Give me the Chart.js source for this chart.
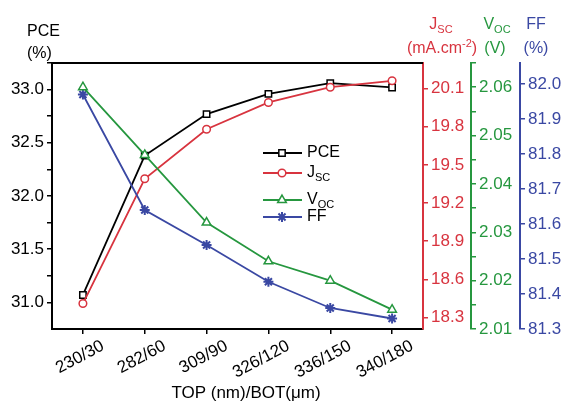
<!DOCTYPE html>
<html><head><meta charset="utf-8">
<script src="https://cdn.jsdelivr.net/npm/chart.js@4/dist/chart.umd.min.js"></script>
<style>html,body{margin:0;padding:0;background:#fff;}#wrap{width:563px;height:402px;}</style>
</head><body><div id="wrap"><canvas id="c" width="563" height="402"></canvas></div>
<script>
const categories = ['230/30','282/60','309/90','326/120','336/150','340/180'];
const pce = [31.07, 32.38, 32.77, 32.96, 33.06, 33.02];
const jsc = [18.41, 19.39, 19.78, 19.99, 20.11, 20.16];
const voc = [2.060, 2.046, 2.032, 2.024, 2.020, 2.014];
const ff  = [81.97, 81.64, 81.54, 81.435, 81.36, 81.33];
const pceTicks = [31.0, 31.5, 32.0, 32.5, 33.0];
const jscTicks = [18.3, 18.6, 18.9, 19.2, 19.5, 19.8, 20.1];
const vocTicks = [2.01, 2.02, 2.03, 2.04, 2.05, 2.06];
const ffTicks  = [81.3, 81.4, 81.5, 81.6, 81.7, 81.8, 81.9, 82.0];

const BLACK = '#000000', RED = '#d8343f', GREEN = '#26973f', BLUE = '#3a48a3';
const FONT = 'Liberation Sans, Arial, sans-serif';

function withMinor(major){
  const out = [];
  const step = major[1]-major[0];
  for (let i=0;i<major.length;i++){
    out.push({value: major[i], major:true});
    out.push({value: +(major[i]+step/2).toFixed(4), major:false});
  }
  return out;
}
function yScale(pos, color, min, max, major, dec, width, weight){
  return {
    type:'linear', position:pos, min:min, max:max, weight:weight,
    border:{display:true, color:color, width:2},
    grid:{display:true, drawOnChartArea:false, drawTicks:true, tickLength:5, color:color, lineWidth:1.5},
    ticks:{color:color, font:{family:FONT, size:17}, padding:3,
      callback:function(v){ return major.some(m=>Math.abs(m-v)<1e-6) ? v.toFixed(dec) : ''; }},
    afterBuildTicks:function(s){ s.ticks = withMinor(major).filter(t=>t.value<=max+1e-9 && t.value>=min-1e-9); },
    afterFit:function(s){ s.width = width; }
  };
}

const titlePlugin = {
  id:'titles',
  afterDraw(chart){
    const ctx = chart.ctx;
    const ca = chart.chartArea;
    ctx.save();
    ctx.strokeStyle = BLACK; ctx.lineWidth = 2;
    ctx.beginPath(); ctx.moveTo(ca.left-1, ca.top); ctx.lineTo(ca.right, ca.top); ctx.stroke();
    ctx.textBaseline = 'middle';
    function runs(parts, x, y, align, color){
      let w = 0;
      parts.forEach(p=>{ ctx.font = (p.size||16)+'px '+FONT; p.w = ctx.measureText(p.t).width; w += p.w; });
      let cx = align==='center' ? x - w/2 : x;
      ctx.fillStyle = color; ctx.textAlign = 'left';
      parts.forEach(p=>{ ctx.font = (p.size||16)+'px '+FONT; ctx.fillText(p.t, cx, y + (p.dy||0)); cx += p.w; });
    }
    runs([{t:'PCE'}], 27, 32, 'left', BLACK);
    runs([{t:'(%)'}], 27, 54, 'left', BLACK);
    runs([{t:'J'},{t:'SC', size:11, dy:5}], 441, 25, 'center', RED);
    runs([{t:'(mA.cm'},{t:'-2', size:11, dy:-5},{t:')'}], 442, 49, 'center', RED);
    runs([{t:'V'},{t:'OC', size:11, dy:5}], 497, 25, 'center', GREEN);
    runs([{t:'(V)'}], 495, 49, 'center', GREEN);
    runs([{t:'FF'}], 536, 25, 'center', BLUE);
    runs([{t:'(%)'}], 536, 49, 'center', BLUE);
    runs([{t:'TOP (nm)/BOT(μm)', size:17}], 246, 393, 'center', BLACK);
    const items = [
      {ds:0, y:153, parts:[{t:'PCE'}]},
      {ds:1, y:173, parts:[{t:'J'},{t:'SC', size:11, dy:5}]},
      {ds:2, y:200, parts:[{t:'V'},{t:'OC', size:11, dy:5}]},
      {ds:3, y:217, parts:[{t:'FF'}]}
    ];
    items.forEach(it=>{
      const d = chart.data.datasets[it.ds];
      ctx.strokeStyle = d.borderColor; ctx.lineWidth = d.borderWidth;
      ctx.beginPath(); ctx.moveTo(263, it.y); ctx.lineTo(302, it.y); ctx.stroke();
      ctx.fillStyle = d.pointBackgroundColor; ctx.strokeStyle = d.borderColor; ctx.lineWidth = d.pointBorderWidth;
      Chart.helpers.drawPoint(ctx, {pointStyle:d.pointStyle, radius:d.pointRadius, borderWidth:d.pointBorderWidth, rotation:0}, 282, it.y);
      runs(it.parts, 307, it.y, 'left', BLACK);
    });
    ctx.restore();
  }
};

function ds(label, data, color, axis, style, r, bw, order){
  return {label, data, yAxisID:axis, borderColor:color, backgroundColor:'#fff',
    pointBackgroundColor:'#fff', pointBorderColor:color, pointStyle:style, pointRadius:r,
    pointBorderWidth:bw, borderWidth:1.8, tension:0, order:order};
}

new Chart(document.getElementById('c'), {
  type:'line',
  data:{ labels:categories, datasets:[
    ds('PCE', pce, BLACK, 'y', 'rect', 4.5, 1.5, 3),
    ds('Jsc', jsc, RED, 'y1', 'circle', 3.8, 1.5, 2),
    ds('Voc', voc, GREEN, 'y2', 'triangle', 5, 1.5, 0),
    ds('FF', ff, BLUE, 'y3', 'star', 5, 2, 1)
  ]},
  options:{
    responsive:false, animation:false, devicePixelRatio:1,
    layout:{padding:{top:63, left:0, right:0, bottom:0}},
    plugins:{legend:{display:false}, tooltip:{enabled:false}},
    scales:{
      x:{type:'category', offset:true,
        border:{display:true, color:BLACK, width:2},
        grid:{display:true, drawOnChartArea:false, drawTicks:true, tickLength:5, color:BLACK, lineWidth:1.5, offset:false},
        ticks:{color:BLACK, font:{family:FONT, size:17}, minRotation:28, maxRotation:28, padding:2, labelOffset:20, autoSkip:false},
        afterFit:function(s){ s.height = 73; }
      },
      y: yScale('left', BLACK, 30.75, 33.25, pceTicks, 1, 52, 0),
      y1: yScale('right', RED, 18.21, 20.3, jscTicks, 1, 48, 0),
      y2: yScale('right', GREEN, 2.01, 2.065, vocTicks, 2, 49, 1),
      y3: yScale('right', BLUE, 81.3, 82.06, ffTicks, 1, 43, 2)
    }
  },
  plugins:[titlePlugin]
});
</script></body></html>
